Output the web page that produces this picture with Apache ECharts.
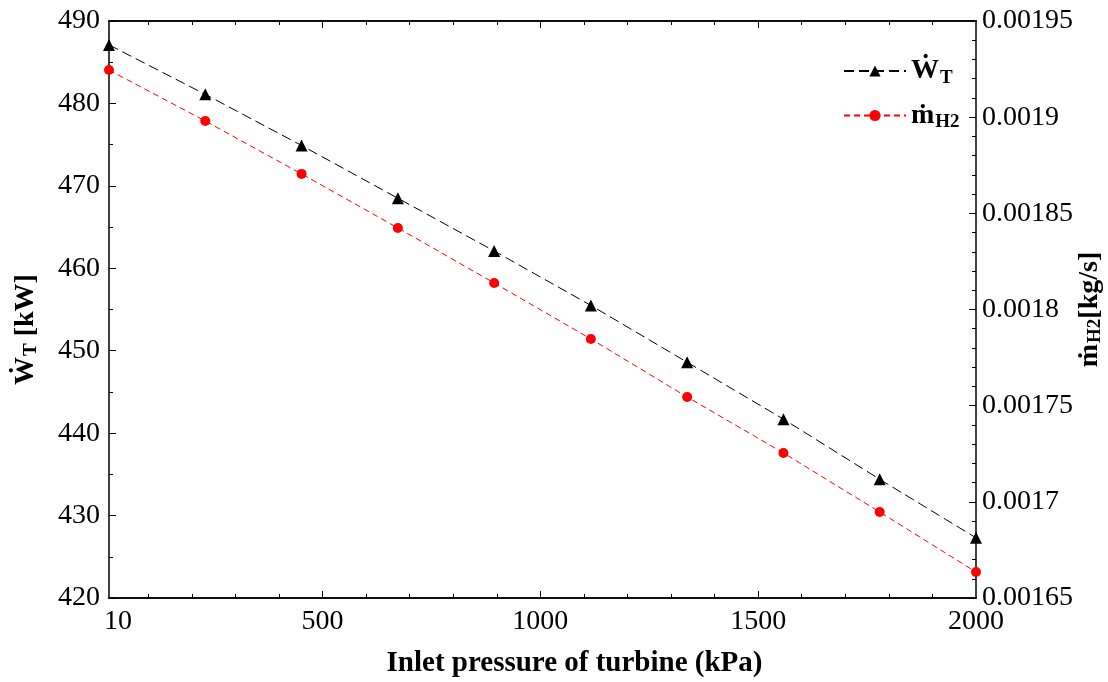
<!DOCTYPE html>
<html><head><meta charset="utf-8">
<script src="https://cdn.jsdelivr.net/npm/echarts@6/dist/echarts.min.js"></script>
<style>html,body{margin:0;padding:0;background:#fff}#c{width:1108px;height:682px}</style>
</head><body><div id="c"></div>
<script>
const pressure = [10, 231, 452, 673, 894, 1116, 1337, 1558, 1779, 2000];
const workT = [487.1, 481.1, 474.9, 468.5, 462.1, 455.5, 448.6, 441.7, 434.4, 427.3];
const massH2 = [0.0019245, 0.001898, 0.0018705, 0.0018424, 0.0018138, 0.0017847, 0.0017545, 0.0017254, 0.0016947, 0.0016635];
const xLabels = [10, 500, 1000, 1500, 2000];
const xMinorTicks = [100,200,300,400,600,700,800,900,1100,1200,1300,1400,1600,1700,1800,1900];
const xMajorTicks = [500, 1000, 1500];

const F = '"Liberation Serif", "DejaVu Serif", serif';
const chart = echarts.init(document.getElementById('c'), null, {renderer: 'canvas'});
const frame = {show: true, lineStyle: {color: '#000', width: 1.5}};
function xAx(pos, ticks, len, labels) {
  return {
    type: 'value', min: 10, max: 2000, position: pos,
    axisLine: frame, splitLine: {show: false},
    axisTick: {show: true, inside: true, length: len, customValues: ticks, lineStyle: {color: '#000', width: 1}},
    axisLabel: labels ? {show: true, customValues: xLabels, fontFamily: F, fontSize: 28, color: '#000', margin: 10,
      formatter: v => v === 10 ? '{f|10}' : String(v), rich: {f: {fontFamily: F, fontSize: 28, color: '#000', padding: [0, 0, 0, 18]}}} : {show: false}
  };
}
const xAxes = [xAx('bottom', xMinorTicks, 4, true), xAx('bottom', xMajorTicks, 7, false), xAx('top', xMinorTicks, 4, false), xAx('top', xMajorTicks, 7, false)];
xAxes[0].name = 'Inlet pressure of turbine (kPa)';
xAxes[0].nameLocation = 'middle';
xAxes[0].nameGap = 51;
xAxes[0].nameTextStyle = {fontFamily: F, fontSize: 29, fontWeight: 'bold', color: '#000', padding: [0, 0, 0, 64]};

const option = {
  backgroundColor: '#fff',
  animation: false,
  grid: {left: 109, right: 132, top: 21, bottom: 84, containLabel: false, outerBoundsMode: 'none'},
  legend: {
    orient: 'vertical', left: 838, top: 52, itemGap: 14, itemWidth: 62, itemHeight: 14,
    data: ['WT', 'mH2'],
    formatter: n => n === 'WT' ? '{w|Ẇ}{s|T}' : '{w|ṁ}{s|H2}',
    textStyle: {fontFamily: F, fontSize: 28, fontWeight: 'bold', color: '#000',
      rich: {w: {fontFamily: F, fontSize: 28, fontWeight: 'bold', color: '#000'},
             s: {fontFamily: F, fontSize: 19, fontWeight: 'bold', color: '#000', padding: [14, 0, 0, 1]}}}
  },
  xAxis: xAxes,
  yAxis: [
    {type: 'value', min: 420, max: 490, interval: 10, position: 'left',
     axisLine: frame, splitLine: {show: false},
     axisTick: {show: true, inside: true, length: 7, lineStyle: {color: '#000'}},
     minorTick: {show: true, splitNumber: 2, length: 4, lineStyle: {color: '#000'}},
     axisLabel: {fontFamily: F, fontSize: 28, color: '#000', margin: 9},
     name: '{w|Ẇ}{s|T}{w| [kW]}', nameLocation: 'middle', nameRotate: 90, nameGap: 68,
     nameTextStyle: {fontFamily: F, fontSize: 28, fontWeight: 'bold', color: '#000', padding: [0, 40, 0, 0],
       rich: {w: {fontFamily: F, fontSize: 28, fontWeight: 'bold', color: '#000'},
              s: {fontFamily: F, fontSize: 19, fontWeight: 'bold', color: '#000', padding: [12, 0, 0, 1]}}}},
    {type: 'value', min: 0.00165, max: 0.00195, interval: 0.00005, position: 'right',
     axisLine: frame, splitLine: {show: false},
     axisTick: {show: true, inside: true, length: 7, lineStyle: {color: '#000'}},
     minorTick: {show: true, splitNumber: 5, length: 4, lineStyle: {color: '#000'}},
     axisLabel: {fontFamily: F, fontSize: 28, color: '#000', margin: 6, formatter: v => String(parseFloat(v.toFixed(6)))},
     name: '{w|ṁ}{s|H2}{w|[kg/s]}', nameLocation: 'middle', nameRotate: 90, nameGap: 98, nameMoveOverlap: false,
     nameTextStyle: {fontFamily: F, fontSize: 28, fontWeight: 'bold', color: '#000',
       rich: {w: {fontFamily: F, fontSize: 28, fontWeight: 'bold', color: '#000'},
              s: {fontFamily: F, fontSize: 19, fontWeight: 'bold', color: '#000', padding: [12, 0, 0, 1]}}}}
  ],
  series: [
    {name: 'WT', type: 'line', xAxisIndex: 0, yAxisIndex: 0,
     data: pressure.map((p, i) => [p, workT[i]]),
     symbol: 'triangle', symbolSize: 12, color: '#000',
     lineStyle: {color: '#000', width: 1, type: [10, 5]}, itemStyle: {color: '#000'}},
    {name: 'mH2', type: 'line', xAxisIndex: 0, yAxisIndex: 1,
     data: pressure.map((p, i) => [p, massH2[i]]),
     symbol: 'circle', symbolSize: 10, color: '#f00',
     lineStyle: {color: '#f00', width: 1, type: [6, 4]}, itemStyle: {color: '#f00'}}
  ]
};
chart.setOption(option);
</script></body></html>
